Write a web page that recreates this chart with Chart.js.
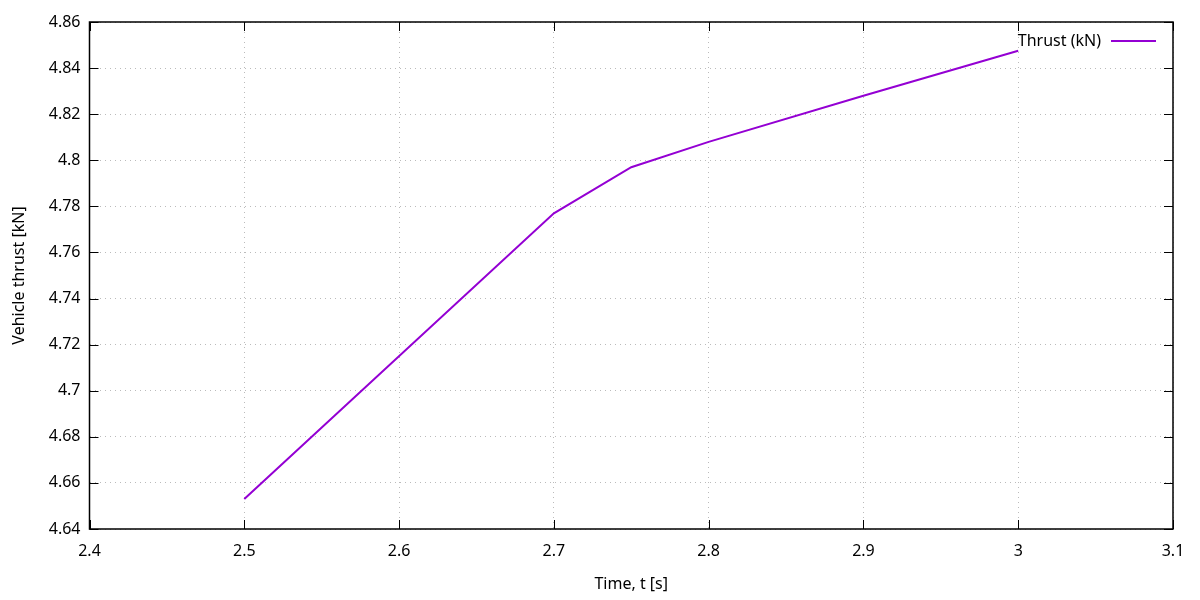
<!DOCTYPE html>
<html>
<head>
<meta charset="utf-8">
<script src="https://cdn.jsdelivr.net/npm/chart.js@4.4.1/dist/chart.umd.min.js"></script>
<style>
  html, body { margin: 0; padding: 0; background: #fff; }
  #wrap { width: 1200px; height: 600px; }
</style>
</head>
<body>
<div id="wrap"><canvas id="thrustChart"></canvas></div>
<script>
// thrust vs time
const timeValues = [2.5, 2.7, 2.75, 2.8, 2.9, 3.0];
const thrustValues = [4.653, 4.777, 4.797, 4.808, 4.828, 4.8475];
const seriesLabel = "Thrust (kN)";
const xTitle = "Time, t [s]";
const yTitle = "Vehicle thrust [kN]";

const lineColor = "#9400d3";
const fontFamily = "'Noto Sans', 'Open Sans', sans-serif";

Chart.defaults.font.family = fontFamily;
Chart.defaults.font.size = 16;
Chart.defaults.color = "#000";

const points = timeValues.map((t, i) => ({ x: t, y: thrustValues[i] }));

function fmt(v) {
  return String(parseFloat(Number(v).toFixed(3)));
}

// gnuplot style frame: border all round, inward ticks mirrored, legend in top right
const framePlugin = {
  id: "frame",
  afterDatasetsDraw(chart) {
    const { ctx, chartArea: a, scales } = chart;
    const tick = 9;
    ctx.save();
    ctx.strokeStyle = "#000";
    ctx.lineWidth = 1;
    ctx.beginPath();
    scales.x.ticks.forEach(t => {
      const px = Math.round(scales.x.getPixelForValue(t.value)) + 0.5;
      ctx.moveTo(px, a.bottom); ctx.lineTo(px, a.bottom - tick);
      ctx.moveTo(px, a.top); ctx.lineTo(px, a.top + tick);
    });
    scales.y.ticks.forEach(t => {
      const py = Math.round(scales.y.getPixelForValue(t.value)) + 0.5;
      ctx.moveTo(a.left, py); ctx.lineTo(a.left + tick, py);
      ctx.moveTo(a.right, py); ctx.lineTo(a.right - tick, py);
    });
    ctx.stroke();
    ctx.lineWidth = 1.5;
    ctx.strokeRect(a.left, a.top, a.right - a.left, a.bottom - a.top);

    // key
    const keyY = a.top + 19;
    const lineEnd = a.right - 17;
    const lineStart = lineEnd - 45;
    ctx.font = "16px " + fontFamily;
    ctx.fillStyle = "#000";
    ctx.textAlign = "right";
    ctx.textBaseline = "middle";
    ctx.fillText(seriesLabel, lineStart - 10, keyY);
    ctx.strokeStyle = lineColor;
    ctx.lineWidth = 2;
    ctx.beginPath();
    ctx.moveTo(lineStart, keyY);
    ctx.lineTo(lineEnd, keyY);
    ctx.stroke();
    ctx.restore();
  }
};

const ctx = document.getElementById("thrustChart").getContext("2d");

new Chart(ctx, {
  type: "line",
  data: {
    datasets: [{
      label: seriesLabel,
      data: points,
      borderColor: lineColor,
      borderWidth: 2,
      pointRadius: 0,
      fill: false,
      tension: 0
    }]
  },
  options: {
    responsive: true,
    maintainAspectRatio: false,
    animation: false,
    layout: { padding: { top: 22, right: 27, bottom: 0, left: 0 } },
    plugins: {
      legend: { display: false },
      tooltip: { enabled: false }
    },
    scales: {
      x: {
        type: "linear",
        min: 2.4,
        max: 3.1,
        afterFit: s => { s.height = 71; },
        ticks: { stepSize: 0.1, padding: 13, maxRotation: 0, callback: v => fmt(v) },
        grid: { color: "#bbb", drawTicks: false, tickBorderDash: [1, 4] },
        border: { display: false, dash: [1, 4] },
        title: { display: true, text: xTitle, padding: { top: 0, bottom: 6 } }
      },
      y: {
        min: 4.64,
        max: 4.86,
        afterFit: s => { s.width = 89.5; },
        ticks: { stepSize: 0.02, padding: 9, callback: v => fmt(v) },
        grid: { color: "#bbb", drawTicks: false },
        border: { display: false, dash: [1, 4] },
        title: { display: true, text: yTitle, padding: { top: 10, bottom: 0 } }
      }
    }
  },
  plugins: [framePlugin]
});
</script>
</body>
</html>
